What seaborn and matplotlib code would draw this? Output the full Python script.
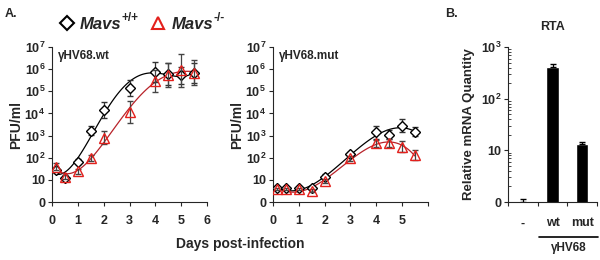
import numpy as np
import pandas as pd
import seaborn as sns
import matplotlib
matplotlib.use("Agg")
import matplotlib.pyplot as plt

# --- data (log10 PFU/ml) ---
days = [0.15, 0.5, 1.0, 1.5, 2.0, 3.0, 4.0, 4.5, 5.0, 5.5]

wt_wt = [1.45, 1.08, 1.83, 3.22, 4.15, 5.15, 5.88, 5.78, 5.72, 5.82]
wt_wt_err = [0.12, 0.1, 0.12, 0.2, 0.35, 0.38, 0.45, 0.5, 0.4, 0.45]
wt_ko = [1.6, 1.12, 1.38, 2.0, 2.9, 4.05, 5.45, 5.75, 5.95, 5.85]
wt_ko_err = [0.15, 0.1, 0.1, 0.14, 0.3, 0.5, 0.5, 0.55, 0.75, 0.55]

mut_wt = [0.62, 0.62, 0.62, 0.62, 1.15, 2.15, 3.15, 3.05, 3.45, 3.18]
mut_wt_err = [0.06, 0.06, 0.06, 0.06, 0.12, 0.1, 0.3, 0.2, 0.3, 0.2]
mut_ko = [0.58, 0.58, 0.58, 0.52, 0.95, 1.98, 2.65, 2.68, 2.5, 2.12]
mut_ko_err = [0.05, 0.05, 0.05, 0.05, 0.08, 0.12, 0.15, 0.18, 0.25, 0.22]

# panel B: RTA relative mRNA quantity
rta_groups = ["-", "wt", "mut"]
rta_values = [1.02, 415, 13.5]
rta_err = [0.1, 55, 1.3]

ytick_vals = [0, 1, 2, 3, 4, 5, 6, 7]
ytick_labels = ["0", "10", r"$\mathrm{10^{2}}$", r"$\mathrm{10^{3}}$", r"$\mathrm{10^{4}}$",
                r"$\mathrm{10^{5}}$", r"$\mathrm{10^{6}}$", r"$\mathrm{10^{7}}$"]

BLACK = "#000000"
RED = "#e3201c"
RED_LINE = "#b8232a"

sns.set_style("ticks")
plt.rcParams["font.family"] = ["Liberation Sans", "DejaVu Sans"]
plt.rcParams["font.weight"] = "bold"
plt.rcParams["mathtext.fontset"] = "custom"
plt.rcParams["mathtext.rm"] = "Liberation Sans:bold"
plt.rcParams["mathtext.it"] = "Liberation Sans:italic:bold"
plt.rcParams["mathtext.bf"] = "Liberation Sans:bold"

fig = plt.figure(figsize=(6, 2.6), dpi=100)
ax1 = fig.add_axes([0.087, 0.223, 0.258, 0.596])
ax2 = fig.add_axes([0.455, 0.223, 0.258, 0.596])
ax3 = fig.add_axes([0.847, 0.223, 0.148, 0.596])


def growth_panel(ax, ywt, ywt_err, yko, yko_err, title):
    df_wt = pd.DataFrame({"day": days, "pfu": ywt})
    df_ko = pd.DataFrame({"day": days, "pfu": yko})
    sns.regplot(data=df_wt, x="day", y="pfu", order=4, ci=None, scatter=False,
                ax=ax, line_kws={"color": BLACK, "lw": 0.9})
    sns.regplot(data=df_ko, x="day", y="pfu", order=4, ci=None, scatter=False,
                ax=ax, line_kws={"color": RED_LINE, "lw": 0.9})
    ax.errorbar(days, ywt, yerr=ywt_err, fmt="D", ms=5.5, mfc="white", mec=BLACK,
                mew=1.0, ecolor="#333333", elinewidth=0.9, capsize=2.5, zorder=4)
    ax.errorbar(days, yko, yerr=yko_err, fmt="^", ms=6.5, mfc="none", mec=RED,
                mew=1.0, ecolor="#444444", elinewidth=0.9, capsize=2.5, zorder=5)
    ax.set_xlim(0, 6)
    ax.set_ylim(0, 7)
    ax.set_xticks(range(0, 7))
    ax.set_yticks(ytick_vals)
    ax.set_yticklabels(ytick_labels)
    ax.tick_params(labelsize=9, length=3, width=0.8, pad=2)
    ax.tick_params(axis="x", pad=6)
    ax.set_xlabel("")
    ax.set_ylabel("PFU/ml", fontsize=10, fontweight="bold", labelpad=1)
    ax.text(0.22, 6.6, title, fontsize=8.5, fontweight="bold", va="center")
    sns.despine(ax=ax)
    for s in ax.spines.values():
        s.set_linewidth(0.8)


growth_panel(ax1, wt_wt, wt_wt_err, wt_ko, wt_ko_err, "\u03b3HV68.wt")
growth_panel(ax2, mut_wt, mut_wt_err, mut_ko, mut_ko_err, "\u03b3HV68.mut")
ax1.set_xticklabels([str(i) for i in range(7)])
ax2.set_xticklabels([str(i) for i in range(6)] + [""])
fig.text(0.4, 0.045, "Days post-infection", ha="center", fontsize=10, fontweight="bold")

# --- panel B ---
df_rta = pd.DataFrame({"group": rta_groups, "value": rta_values})
sns.barplot(data=df_rta, x="group", y="value", color="black", width=0.42,
            errorbar=None, ax=ax3, saturation=1)
ax3.errorbar(range(3), rta_values, yerr=[[0, 0, 0], rta_err], fmt="none",
             ecolor="black", elinewidth=0.9, capsize=2.5)
ax3.set_yscale("log")
ax3.set_ylim(1, 1000)
ax3.set_xlim(-0.5, 2.5)
ax3.set_yticks([1, 10, 100, 1000])
ax3.set_yticklabels(["0", "10", r"$\mathrm{10^{2}}$", r"$\mathrm{10^{3}}$"])
ax3.tick_params(axis="y", which="major", labelsize=9, length=3, width=0.8, pad=2)
ax3.tick_params(axis="y", which="minor", direction="in", length=2.5, width=0.6)
ax3.set_xticks([-0.5, 0.5, 1.5, 2.5])
ax3.set_xticklabels([])
ax3.tick_params(axis="x", which="major", length=3, width=0.8)
ax3.set_xticks([0, 1, 2], minor=True)
ax3.set_xticklabels(rta_groups, minor=True, fontsize=9, fontweight="bold")
ax3.tick_params(axis="x", which="minor", length=0, pad=11)
ax3.set_xlabel("")
ax3.set_ylabel("Relative mRNA Quantity", fontsize=9.5, fontweight="bold", labelpad=4)
ax3.set_title("RTA", fontsize=9, fontweight="bold", pad=12)
sns.despine(ax=ax3)
for s in ax3.spines.values():
    s.set_linewidth(0.8)
ax3.plot([0.55, 2.55], [-0.226, -0.226], transform=ax3.get_xaxis_transform(),
         color="black", lw=1.2, clip_on=False)
ax3.text(1.55, -0.26, "\u03b3HV68", transform=ax3.get_xaxis_transform(),
         ha="center", va="top", fontsize=8.5, fontweight="bold")

# --- panel letters and legend ---
fig.text(0.008, 0.935, "A.", fontsize=9, fontweight="bold")
fig.text(0.742, 0.935, "B.", fontsize=9, fontweight="bold")
fig.lines.append(plt.Line2D([0.112], [0.912], marker="D", ms=7, mfc="white",
                            mec=BLACK, mew=1.5, transform=fig.transFigure))
t1 = fig.text(0.133, 0.905, "Mavs", fontsize=12, fontstyle="italic",
              fontweight="bold", va="center")
ax1.annotate("+/+", xy=(1.0, 0.55), xycoords=t1, fontsize=8.5,
             fontweight="bold", va="bottom", annotation_clip=False)
fig.lines.append(plt.Line2D([0.263], [0.912], marker="^", ms=8, mfc="none",
                            mec=RED, mew=1.5, transform=fig.transFigure))
t2 = fig.text(0.287, 0.905, "Mavs", fontsize=12, fontstyle="italic",
              fontweight="bold", va="center")
ax1.annotate("-/-", xy=(1.0, 0.55), xycoords=t2, fontsize=8.5,
             fontweight="bold", va="bottom", annotation_clip=False)

fig.savefig("out.png", dpi=100)
